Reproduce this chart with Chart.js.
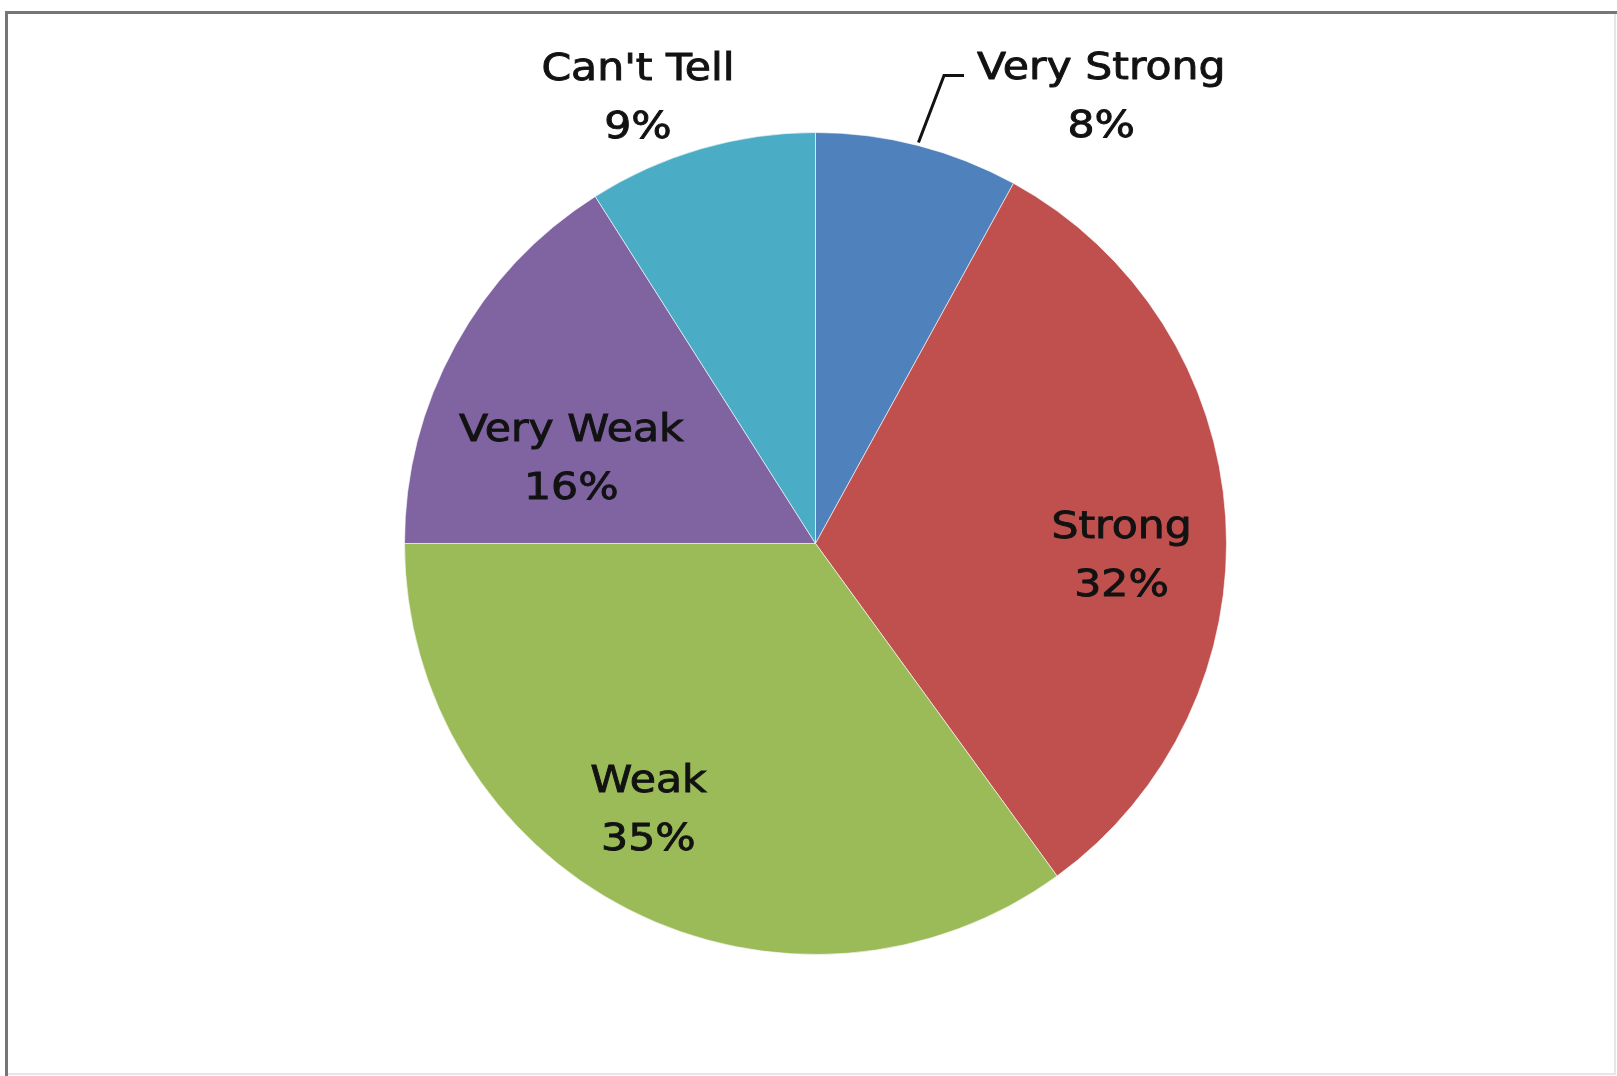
<!DOCTYPE html>
<html>
<head>
<meta charset="utf-8">
<title>Strength ratings</title>
<script src="https://cdn.jsdelivr.net/npm/chart.js@4/dist/chart.umd.min.js"></script>
<style>
  html, body { margin: 0; padding: 0; background: #ffffff; }
  canvas { display: block; }
</style>
</head>
<body>
<canvas id="pie" width="1617" height="1076"></canvas>
<script>
// Share of responses per rating, clockwise from 12 o'clock
const categories = ["Very Strong", "Strong", "Weak", "Very Weak", "Can't Tell"];
const shares = [8, 32, 35, 16, 9];
const sliceColors = ["#4F81BD", "#C0504D", "#9BBB59", "#8064A2", "#4BACC6"];

// Label placement per slice: distance from centre (fraction of radius) and
// angular nudge (degrees) relative to the slice's mid angle.
const labelPlacement = [
  { radius: 1.294, nudge: 18.1, leader: true },
  { radius: 0.745, nudge: 5.4 },
  { radius: 0.761, nudge: 5.3 },
  { radius: 0.631, nudge: -9.1 },
  { radius: 1.173, nudge: -5.4 }
];

const FONT = '37px "DejaVu Sans", sans-serif';
const STRETCH = 1.15;     // extended letterforms
const LINE_GAP = 58;      // baseline to baseline
const CAP_HALF = 13.5;

const frame = {
  id: 'frame',
  beforeDraw(chart) {
    const ctx = chart.ctx;
    ctx.save();
    ctx.fillStyle = '#ffffff';
    ctx.fillRect(0, 0, chart.width, chart.height);
    ctx.strokeStyle = '#e6e6e6';
    ctx.lineWidth = 2;
    ctx.beginPath();
    ctx.moveTo(1615, 12);
    ctx.lineTo(1615, 1074);
    ctx.lineTo(6, 1074);
    ctx.stroke();
    ctx.strokeStyle = '#767676';
    ctx.lineWidth = 3;
    ctx.beginPath();
    ctx.moveTo(6.5, 1076);
    ctx.lineTo(6.5, 12.5);
    ctx.lineTo(1617, 12.5);
    ctx.stroke();
    ctx.restore();
  }
};

const sliceLabels = {
  id: 'sliceLabels',
  afterDatasetsDraw(chart) {
    const ctx = chart.ctx;
    const meta = chart.getDatasetMeta(0);
    ctx.save();
    ctx.font = FONT;
    ctx.fillStyle = '#121212';
    ctx.strokeStyle = '#121212';
    ctx.lineJoin = 'round';
    ctx.textAlign = 'center';
    ctx.textBaseline = 'alphabetic';
    meta.data.forEach((arc, i) => {
      const p = arc.getProps(['x', 'y', 'startAngle', 'endAngle', 'outerRadius'], true);
      const place = labelPlacement[i];
      const mid = (p.startAngle + p.endAngle) / 2;
      const ang = mid + place.nudge * Math.PI / 180;
      const cx = p.x + Math.cos(ang) * p.outerRadius * place.radius;
      const cy = p.y + Math.sin(ang) * p.outerRadius * place.radius;
      const lines = [categories[i], shares[i] + '%'];
      const base1 = cy - LINE_GAP / 2 + CAP_HALF;
      lines.forEach((txt, k) => {
        ctx.save();
        ctx.translate(cx, base1 + k * LINE_GAP);
        ctx.scale(STRETCH, 1);
        ctx.lineWidth = 0.9;
        ctx.fillText(txt, 0, 0);
        ctx.strokeText(txt, 0, 0);
        ctx.restore();
      });
      if (place.leader) {
        const w = ctx.measureText(lines[0]).width * STRETCH;
        const left = cx - w / 2;
        const sx = p.x + Math.cos(mid) * (p.outerRadius + 3);
        const sy = p.y + Math.sin(mid) * (p.outerRadius + 3);
        const ey = base1 - 4;
        ctx.lineWidth = 3;
        ctx.lineJoin = 'miter';
        ctx.beginPath();
        ctx.moveTo(sx, sy);
        ctx.lineTo(left - 33, ey);
        ctx.lineTo(left - 13, ey);
        ctx.stroke();
      }
    });
    ctx.restore();
  }
};

new Chart(document.getElementById('pie'), {
  type: 'pie',
  data: {
    labels: categories,
    datasets: [{
      data: shares,
      backgroundColor: sliceColors,
      borderColor: 'rgba(255,255,255,0.6)',
      borderWidth: 1
    }]
  },
  options: {
    responsive: false,
    animation: false,
    layout: { padding: { left: 404, right: 390, top: 132, bottom: 121 } },
    plugins: {
      legend: { display: false },
      tooltip: { enabled: false }
    }
  },
  plugins: [frame, sliceLabels]
});
</script>
</body>
</html>
